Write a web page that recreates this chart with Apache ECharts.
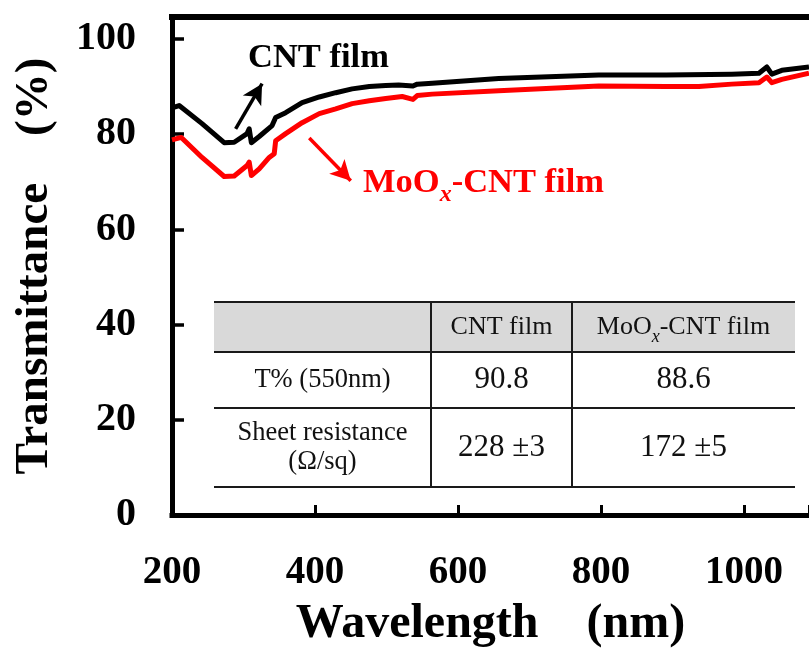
<!DOCTYPE html>
<html><head><meta charset="utf-8">
<script src="https://cdn.jsdelivr.net/npm/echarts@6.0.0/dist/echarts.min.js"></script>
<style>html,body{margin:0;padding:0;background:#fff}#c{width:809px;height:651px}</style>
</head><body><div id="c"></div>
<script>
// ---- data ----
const cntWavelength = [200, 210, 242, 273, 287, 305, 308, 311, 322, 340, 345, 359, 382, 406, 429, 452, 476, 499, 517, 537, 543, 564, 657, 797, 891, 983, 1021, 1032, 1039, 1053, 1091];
const cntT          = [85.5, 86.0, 82.2, 78.2, 78.3, 80.1, 81.1, 78.2, 79.5, 81.8, 83.5, 84.5, 86.6, 87.8, 88.7, 89.5, 90.0, 90.2, 90.3, 90.1, 90.5, 90.7, 91.7, 92.4, 92.4, 92.6, 92.8, 94.1, 92.6, 93.4, 94.1];
const moWavelength  = [200, 213, 242, 273, 287, 305, 308, 311, 322, 336, 343, 345, 359, 382, 406, 429, 452, 476, 499, 522, 537, 543, 564, 657, 797, 891, 937, 983, 1021, 1032, 1039, 1053, 1091];
const moT           = [78.8, 79.3, 75.1, 71.1, 71.2, 73.4, 74.1, 71.3, 72.7, 75.1, 75.9, 78.6, 80.1, 82.4, 84.3, 85.3, 86.4, 87.0, 87.5, 87.9, 87.3, 88.1, 88.4, 89.1, 90.1, 90.0, 90.0, 90.5, 90.8, 92.0, 90.8, 91.5, 92.8];
const xTickLabels = [200, 400, 600, 800, 1000];
const yTickLabels = [0, 20, 40, 60, 80, 100];
const cntArrow = [[289, 81.1], [326, 90.6]];
const moArrow  = [[392, 79.2], [450, 70.2]];
const tableRowLabels = ['T% (550nm)', 'Sheet resistance\n(Ω/sq)'];
const tableCntValues = ['90.8', '228 ±3'];
const tableMoValues  = ['88.6', '172 ±5'];

const FONT = '"Liberation Serif","Times New Roman",serif';
const chart = echarts.init(document.getElementById('c'), null, {renderer: 'canvas'});

const zip = (a, b) => a.map((v, i) => [v, b[i]]);

// table geometry (annotation, not data)
const T = {x0: 214, x1: 431, x2: 572, x3: 795, y0: 302, y1: 352, y2: 408, y3: 487};
const colC = [(T.x0 + T.x1) / 2, (T.x1 + T.x2) / 2, (T.x2 + T.x3) / 2];
const rowC = [(T.y0 + T.y1) / 2, (T.y1 + T.y2) / 2, (T.y2 + T.y3) / 2];
const lineStyle = {stroke: '#1a1a1a', lineWidth: 2};
const tableGraphics = [
  {type: 'rect', shape: {x: T.x0, y: T.y0, width: T.x3 - T.x0, height: T.y1 - T.y0}, style: {fill: '#d9d9d9'}, z: 100},
  ...[T.y0, T.y1, T.y2, T.y3].map(y => ({type: 'line', shape: {x1: T.x0, y1: y, x2: T.x3, y2: y}, style: lineStyle, z: 101})),
  ...[T.x1, T.x2].map(x => ({type: 'line', shape: {x1: x, y1: T.y0, x2: x, y2: T.y3}, style: lineStyle, z: 101})),
  {type: 'text', x: colC[1], y: rowC[0], z: 102, style: {text: 'CNT film', font: '26px ' + FONT, fill: '#111', align: 'center', verticalAlign: 'middle'}},
  {type: 'text', x: colC[2], y: rowC[0], z: 102, style: {text: '{a|MoO}{b|x}{a|-CNT film}', align: 'center', verticalAlign: 'middle',
    rich: {a: {font: '26px ' + FONT, fill: '#111', lineHeight: 30}, b: {font: 'italic 18px ' + FONT, fill: '#111', verticalAlign: 'bottom', lineHeight: 38}}}},
  ...tableRowLabels.map((t, i) => ({type: 'text', x: colC[0], y: rowC[i + 1], z: 102, style: {text: t, font: '26.5px ' + FONT, fill: '#111', align: 'center', verticalAlign: 'middle', lineHeight: 29}})),
  ...tableCntValues.map((t, i) => ({type: 'text', x: colC[1], y: rowC[i + 1], z: 102, style: {text: t, font: '31px ' + FONT, fill: '#111', align: 'center', verticalAlign: 'middle'}})),
  ...tableMoValues.map((t, i) => ({type: 'text', x: colC[2], y: rowC[i + 1], z: 102, style: {text: t, font: '31px ' + FONT, fill: '#111', align: 'center', verticalAlign: 'middle'}}))
];

const xmin = 200, xmax = 1091, ymin = 0, ymax = 104.6;
const axisLineStyle = {color: '#000', width: 5, cap: 'square'};

chart.setOption({
  animation: false,
  backgroundColor: '#fff',
  grid: {left: 172, right: 0, top: 17, bottom: 136, containLabel: false, outerBoundsMode: 'none'},
  xAxis: [{
    type: 'value', min: xmin, max: xmax, interval: 200,
    axisLine: {show: true, onZero: false, lineStyle: axisLineStyle},
    axisTick: {show: true, inside: true, length: 10, lineStyle: {color: '#000', width: 3}},
    axisLabel: {show: true, margin: 38, color: '#000', fontFamily: FONT, fontWeight: 'bold', fontSize: 39,
      formatter: v => xTickLabels.includes(v) ? String(v) : ''},
    splitLine: {show: false},
    name: 'Wavelength    (nm)', nameLocation: 'middle', nameGap: 86,
    nameTextStyle: {color: '#000', fontFamily: FONT, fontWeight: 'bold', fontSize: 48}
  }, {
    type: 'value', position: 'top', min: xmin, max: xmax,
    axisLine: {show: true, onZero: false, lineStyle: {color: '#000', width: 6, cap: 'square'}},
    axisTick: {show: false}, axisLabel: {show: false}, splitLine: {show: false}
  }],
  yAxis: {
    type: 'value', min: ymin, max: ymax, interval: 20,
    axisLine: {show: true, onZero: false, lineStyle: axisLineStyle},
    axisTick: {show: true, inside: true, length: 12, lineStyle: {color: '#000', width: 3.5}},
    axisLabel: {show: true, margin: 36, color: '#000', fontFamily: FONT, fontWeight: 'bold', fontSize: 40,
      formatter: v => yTickLabels.includes(v) ? String(v) : ''},
    splitLine: {show: false},
    name: 'Transmittance    (%)', nameLocation: 'middle', nameGap: 114, nameRotate: 90,
    nameTextStyle: {color: '#000', fontFamily: FONT, fontWeight: 'bold', fontSize: 47}
  },
  series: [{
    name: 'MoOx-CNT film', type: 'line', data: zip(moWavelength, moT), showSymbol: false, silent: true,
    lineStyle: {color: '#ff0000', width: 5, join: 'round'}, itemStyle: {color: '#ff0000'}, z: 3,
    markLine: {silent: true, symbol: ['none', 'arrow'], symbolSize: [16, 20], label: {show: false},
      lineStyle: {color: '#ff0000', width: 3.5, type: 'solid'},
      data: [[{coord: moArrow[0]}, {coord: moArrow[1]}]]}
  }, {
    name: 'CNT film', type: 'line', data: zip(cntWavelength, cntT), showSymbol: false, silent: true,
    lineStyle: {color: '#000', width: 5, join: 'round'}, itemStyle: {color: '#000'}, z: 4,
    markLine: {silent: true, symbol: ['none', 'arrow'], symbolSize: [16, 20], label: {show: false},
      lineStyle: {color: '#000', width: 3.5, type: 'solid'},
      data: [[{coord: cntArrow[0]}, {coord: cntArrow[1]}]]}
  }],
  graphic: [
    {type: 'text', x: 248, y: 58, z: 50, style: {text: 'CNT film', font: 'bold 34.5px ' + FONT, fill: '#000', verticalAlign: 'middle'}},
    {type: 'text', x: 363, y: 183, z: 50, style: {text: '{a|MoO}{b|x}{a|-CNT film}', verticalAlign: 'middle',
      rich: {a: {font: 'bold 34.5px ' + FONT, fill: '#ff0000', lineHeight: 36}, b: {font: 'bold italic 24px ' + FONT, fill: '#ff0000', verticalAlign: 'bottom', lineHeight: 48}}}},
    ...tableGraphics
  ]
});
</script></body></html>
